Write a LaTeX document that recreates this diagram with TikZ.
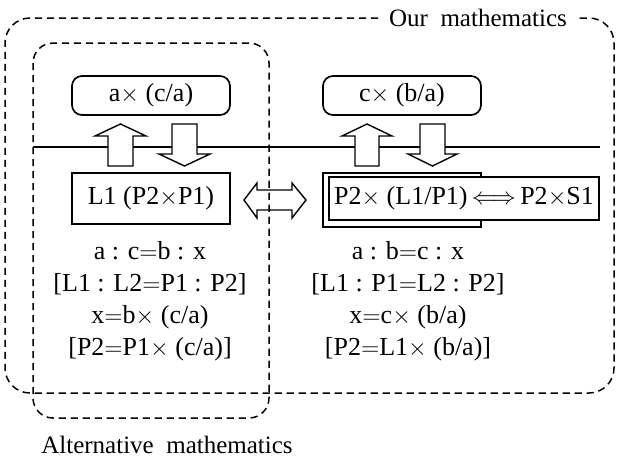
\documentclass[tikz,border=0pt]{standalone}
\usepackage{fontspec}
\setmainfont{Liberation Serif}
\newcommand{\tms}{\ensuremath{\times}}
\newcommand{\eqs}{\ensuremath{=}}
\begin{document}
\begin{tikzpicture}[x=0.5pt,y=-0.5pt,
  font=\fontsize{13}{16}\selectfont,
  dashline/.style={dash pattern=on 3.6pt off 2.4pt, line width=0.75pt},
  solidbox/.style={draw, line width=0.85pt, fill=white, inner sep=0pt, minimum width=79pt},
  blockarrow/.style={draw, line width=0.7pt, fill=white, line join=miter},
  txt/.style={inner sep=0pt, align=center},
  lbl/.style={inner sep=0pt, anchor=base, font=\fontsize{12.5}{15}\selectfont}]
\useasboundingbox (0,0) rectangle (617,457);
% outer dashed region
\draw[dashline, rounded corners=12.5pt] (378,18) -- (5,18) -- (5,393) -- (614,393) -- (614,18) -- (576,18);
\node[lbl] (ourlbl) at (478,26) {Our\ \ mathematics};
% horizontal line
\coordinate (hl) at (33,147);
\coordinate (hr) at (600,147);
\draw[line width=0.6pt] (hl) -- (hr);
% top boxes
\node[solidbox, rounded corners=5pt, minimum height=19.5pt] (topL) at (151,95.5) {a\tms\ (c/a)};
\node[solidbox, rounded corners=5pt, minimum height=19.5pt] (topR) at (402,95.5) {c\tms\ (b/a)};
% lower boxes
\node[solidbox, minimum height=25.5pt] (boxL) at (151,198.5) {L1 (P2\tms P1)};
\node[solidbox, minimum height=27pt] (frameR) at (402,200) {};
\node[solidbox, minimum width=135pt, minimum height=21.5pt] (boxR) at (464,198.5) {P2\tms\ (L1/P1)\,$\Longleftrightarrow$\,P2\tms S1};
% block arrows left
\draw[blockarrow] (108,166) -- (108,136) -- (95,136) -- (120.5,124) -- (146,136) -- (133,136) -- (133,166) -- cycle;
\draw[blockarrow] (172,124) -- (197,124) -- (197,154) -- (210,154) -- (184.5,166) -- (159,154) -- (172,154) -- cycle;
% block arrows right
\draw[blockarrow] (355,166) -- (355,136) -- (342,136) -- (367,124) -- (392,136) -- (379,136) -- (379,166) -- cycle;
\draw[blockarrow] (420,124) -- (445,124) -- (445,154) -- (457,154) -- (432.5,166) -- (408,154) -- (420,154) -- cycle;
% double arrow between
\draw[blockarrow] (244,200) -- (257,183) -- (257,190) -- (292,190) -- (292,183) -- (306,200) -- (292,218) -- (292,210) -- (257,210) -- (257,218) -- cycle;
% alternative region
\draw[dashline, rounded corners=10pt] (33,43) rectangle (269,418);
\node[lbl] (altlbl) at (167,453) {Alternative\ \ mathematics};
% equations
\node[txt] (eqL) at (150,301) {a : c\eqs b : x\\{[}L1 : L2\eqs P1 : P2{]}\\x\eqs b\tms\ (c/a)\\{[}P2\eqs P1\tms\ (c/a){]}};
\node[txt] (eqR) at (408,301) {a : b\eqs c : x\\{[}L1 : P1\eqs L2 : P2{]}\\x\eqs c\tms\ (b/a)\\{[}P2\eqs L1\tms\ (b/a){]}};
\end{tikzpicture}
\end{document}
